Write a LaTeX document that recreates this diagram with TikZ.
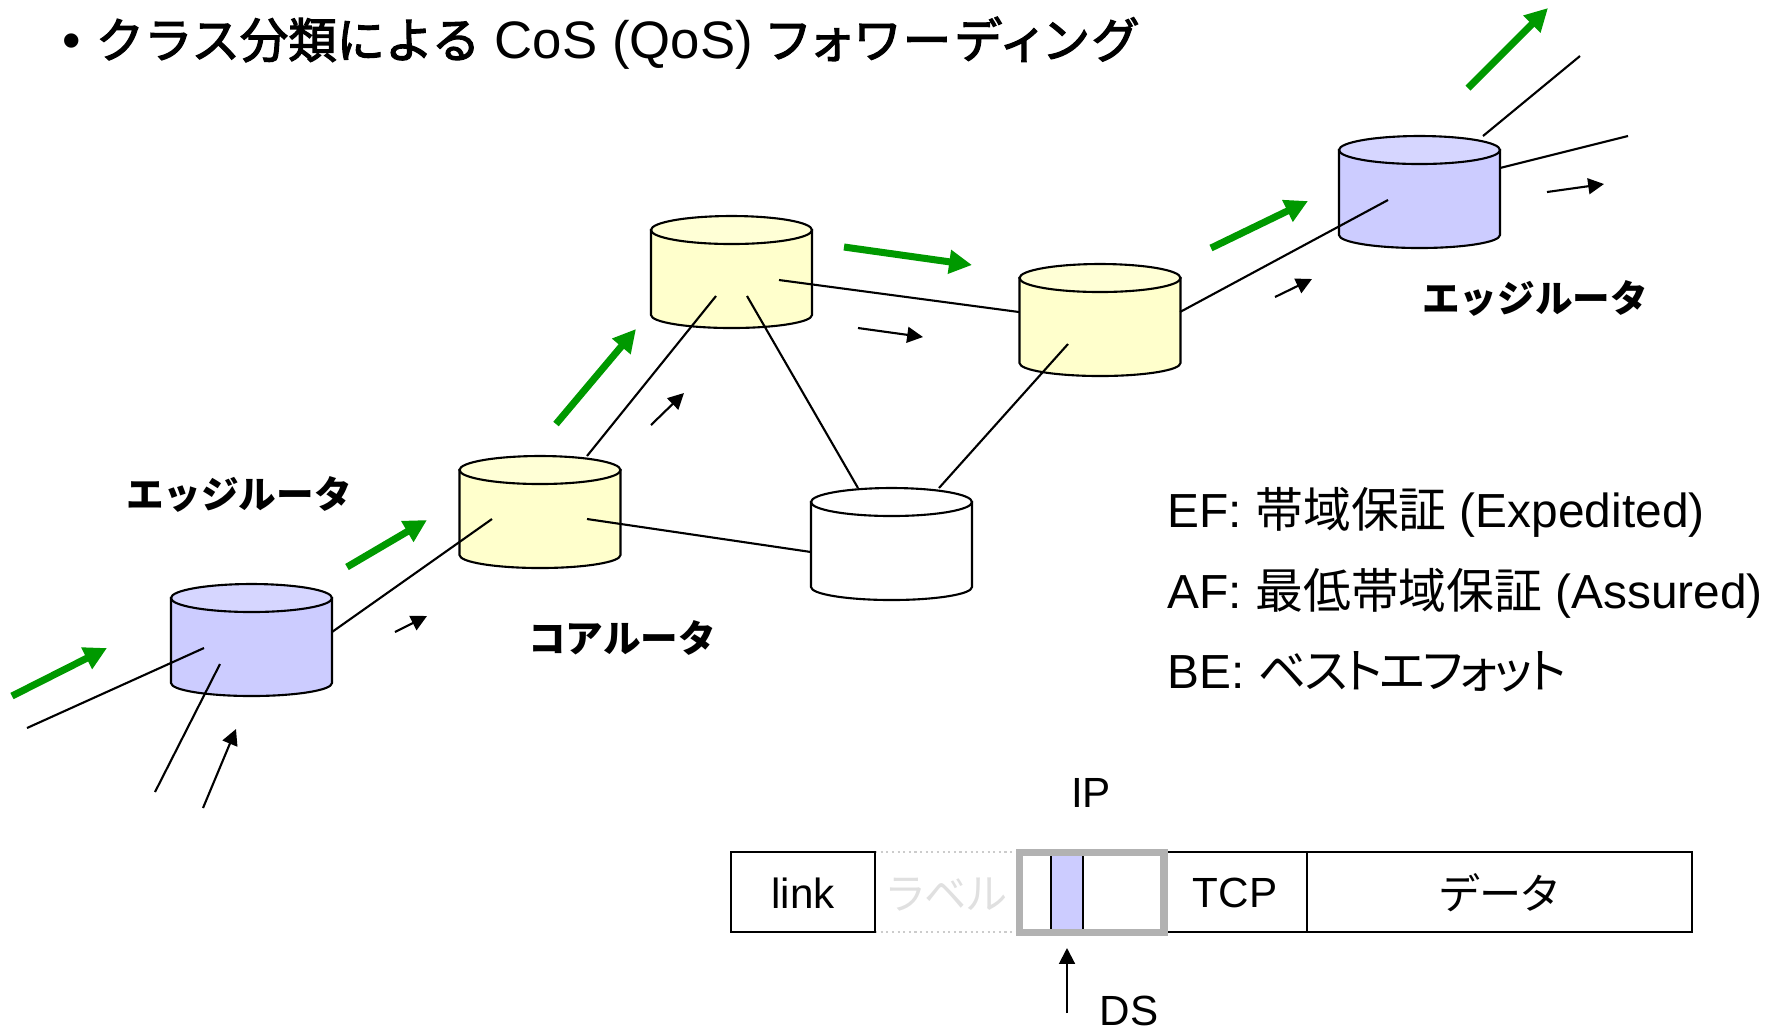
\documentclass[tikz,border=0pt]{standalone}
\usepackage{fontspec}
\setmainfont{Liberation Sans}
\newfontfamily\cjk{Noto Sans CJK JP}
\newfontfamily\cjkp[RawFeature=+palt]{Noto Sans CJK JP}
\newfontfamily\cjkq[RawFeature=+palt,LetterSpace=-5.5]{Noto Sans CJK JP}
\newfontfamily\cjkm[FakeBold=2.5]{Noto Sans CJK JP}
\newfontfamily\cjkn[FakeBold=2.5,RawFeature=+palt,LetterSpace=10]{Noto Sans CJK JP}
\usetikzlibrary{arrows.meta}
\definecolor{routerblue}{HTML}{CCCCFF}
\definecolor{routerbluetop}{HTML}{D6D6FF}
\definecolor{routeryellow}{HTML}{FFFFCC}
\definecolor{routeryellowtop}{HTML}{FFFFD6}
\definecolor{flowgreen}{HTML}{009900}
\tikzset{
  router/.style={draw=black,line width=0.6pt},
  wire/.style={black,line width=0.6pt},
  flow/.style={-{Triangle[length=6.5pt,width=6.5pt]},flowgreen,line width=2pt},
  hop/.style={-{Triangle[length=4.5pt,width=4.5pt]},black,line width=0.6pt},
  caption/.style={font=\fontsize{10.7}{12}\selectfont\cjk\bfseries},
  legend/.style={anchor=base west,inner sep=0pt,font=\fontsize{13.6}{16}\selectfont},
  cell/.style={font=\fontsize{12}{14}\selectfont,inner sep=0pt}
}
\begin{document}
\begin{tikzpicture}[x=0.01cm,y=-0.01cm]
\useasboundingbox (0,0) rectangle (1778,1029);

% title
\node[anchor=base west,inner sep=0pt,font=\fontsize{15}{18}\selectfont] (title) at (62,58)
  {\textbullet\ {\cjkm\fontsize{13.75}{18}\selectfont クラス分類による} CoS (QoS) {\cjkn\fontsize{13.75}{18}\selectfont フォワーディング}};

% routers
\foreach \name/\x/\y/\body/\lid in {edgea/251.5/640/routerblue/routerbluetop,corea/540/512/routeryellow/routeryellowtop,
    coreb/731.5/272/routeryellow/routeryellowtop,corec/1100/320/routeryellow/routeryellowtop,
    cored/891.5/544/white/white,edgeb/1419.5/192/routerblue/routerbluetop} {
  \coordinate (\name) at (\x,\y);
  \draw[router,fill=\body] (\x-80.5,\y-42) -- (\x-80.5,\y+43) arc[start angle=180,end angle=0,x radius=80.5,y radius=13] -- (\x+80.5,\y-42) -- cycle;
  \draw[router,fill=\lid] (\x,\y-42) ellipse [x radius=80.5,y radius=14];
}

\node[caption] (edgealabel) at (239,494) {エッジルータ};
\node[caption] (corelabel) at (622,638) {コアルータ};
\node[caption] (edgeblabel) at (1535,298) {エッジルータ};

% wires
\coordinate (ina) at (27,728);
\coordinate (inaend) at (204,648);
\coordinate (inb) at (155,792);
\coordinate (inbend) at (220,664);
\coordinate (ea) at (332,632);
\coordinate (caa) at (492,519);
\coordinate (cab) at (587,456);
\coordinate (cac) at (587,519);
\coordinate (cba) at (716,296);
\coordinate (cbb) at (779,280);
\coordinate (cbc) at (747,296);
\coordinate (cca) at (1019,312);
\coordinate (ccb) at (1068,344);
\coordinate (ccc) at (1180,312);
\coordinate (cda) at (811,552);
\coordinate (cdb) at (858,488);
\coordinate (cdc) at (939,488);
\coordinate (eba) at (1388,200);
\coordinate (ebb) at (1483,136);
\coordinate (ebc) at (1500,168);
\coordinate (outa) at (1580,56);
\coordinate (outb) at (1628,136);
\foreach \p/\q in {ina/inaend,inb/inbend,ea/caa,cab/cba,cac/cda,cbb/cca,cbc/cdb,cdc/ccb,ccc/eba,ebb/outa,ebc/outb}
  \draw[wire] (\p) -- (\q);

% green arrows
\foreach \xa/\ya/\xb/\yb in {12/696/107/648,347/567/427/520,556/424/636/329,844/247/972/265,1211/248/1308/201,1468/88/1548/8}
  \draw[flow] (\xa,\ya) -- (\xb,\yb);

% small arrows
\foreach \xa/\ya/\xb/\yb in {203/808/236/729,395/632/427/616,651/425/684/393,858/328/923/337,1275/297/1312/279,1547/192/1604/184}
  \draw[hop] (\xa,\ya) -- (\xb,\yb);

% legend
\node[legend] (ef) at (1167,527) {EF: {\cjk 帯域保証} (Expedited)};
\node[legend] (af) at (1167,608) {AF: {\cjk 最低帯域保証} (Assured)};
\node[legend] (be) at (1167,688) {BE: {\cjkq ベストエフォット}};

% packet
\draw[black!20,densely dotted,line width=0.6pt] (875,852) -- (1020,852) (875,932) -- (1020,932);
\draw[black,line width=0.6pt] (731,852) rectangle (875,932);
\draw[black,fill=routerblue,line width=0.6pt] (1051,852) rectangle (1083,932);
\draw[black,line width=0.6pt] (1164,852) rectangle (1307,932);
\draw[black,line width=0.6pt] (1307,852) rectangle (1692,932);
\draw[black!30,line width=2pt] (1019.5,852) rectangle (1164,932);

\node[cell] (link) at (803,893) {link};
\node[cell,black!12] (labelcell) at (947,895) {\cjkp ラベル};
\node[cell] (tcp) at (1235,893) {TCP};
\node[cell] (data) at (1499,893) {\cjkp データ};
\node[cell] (ip) at (1091,793) {IP};
\node[cell,anchor=base] (ds) at (1129,1025) {DS};
\coordinate (dsarrow) at (1067,1013);
\coordinate (dstip) at (1067,948);
\draw[black,-{Triangle[length=4.5pt,width=4.5pt]},line width=0.6pt] (dsarrow) -- (dstip);

\end{tikzpicture}
\end{document}
